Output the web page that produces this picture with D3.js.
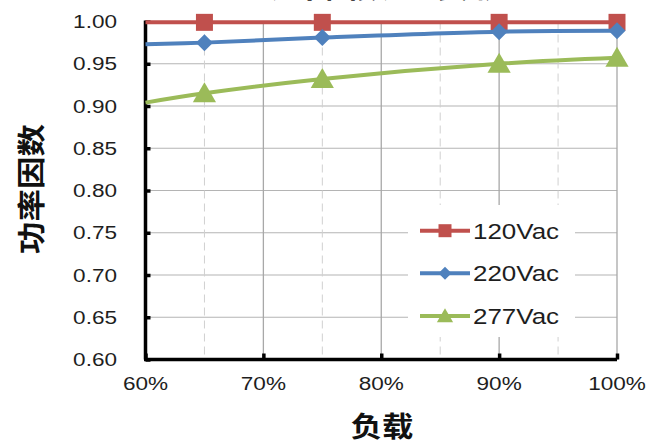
<!DOCTYPE html>
<html>
<head>
<meta charset="utf-8">
<script src="https://cdn.jsdelivr.net/npm/d3@7/dist/d3.min.js"></script>
<style>
  html, body { margin: 0; padding: 0; background: #fff; }
  svg { display: block; }
  .num { font-family: "Liberation Sans", Arial, sans-serif; fill: #1e1e1e; }
  .cjk { font-family: "Noto Sans CJK SC", sans-serif; font-weight: 700; fill: #111; }
</style>
</head>
<body>
<svg id="chart" width="650" height="443"></svg>
<script>
// Load (%) at which power factor was measured
const loads = [60, 65, 75, 90, 100];
// Power factor per input voltage
const pf120 = [0.999, 0.999, 0.999, 0.999, 0.999];
const pf220 = [0.973, 0.975, 0.981, 0.988, 0.989];
const pf277 = [0.904, 0.915, 0.932, 0.950, 0.957];
const seriesNames = ["120Vac", "220Vac", "277Vac"];
const yTicks = [0.60, 0.65, 0.70, 0.75, 0.80, 0.85, 0.90, 0.95, 1.00];
const xMajor = [60, 70, 80, 90, 100];
const xMinor = [65, 75, 85, 95];

const plot = { left: 145.5, right: 617, top: 21.5, bottom: 359.5 };
const SX = 1.22; // horizontal stretch of the label glyphs

const svg = d3.select("#chart");
const x = d3.scaleLinear().domain([60, 100]).range([plot.left, plot.right]);
const y = d3.scaleLinear().domain([0.60, 1.00]).range([plot.bottom, plot.top]);

const series = [
  { name: seriesNames[0], values: pf120, color: "#C0504D", shape: "square" },
  { name: seriesNames[1], values: pf220, color: "#4F81BD", shape: "diamond" },
  { name: seriesNames[2], values: pf277, color: "#9BBB59", shape: "triangle" }
];

// Title (sits almost entirely above the top edge)
svg.append("text").attr("class", "cjk")
  .attr("transform", `translate(${(plot.left + plot.right) / 2},-2) scale(${SX},1)`)
  .attr("text-anchor", "middle").style("font-size", "26px")
  .text("功率因数 vs 负载");

// Horizontal gridlines
svg.append("g").selectAll("line").data(yTicks.slice(1)).join("line")
  .attr("x1", plot.left).attr("x2", plot.right)
  .attr("y1", d => y(d)).attr("y2", d => y(d))
  .attr("stroke", "#b4b4b4").attr("stroke-width", 1.2);

// Vertical minor (dashed) gridlines
svg.append("g").selectAll("line").data(xMinor).join("line")
  .attr("x1", d => x(d)).attr("x2", d => x(d))
  .attr("y1", plot.top).attr("y2", plot.bottom)
  .attr("stroke", "#d0d0d0").attr("stroke-width", 1).attr("stroke-dasharray", "8,5");

// Vertical major gridlines
svg.append("g").selectAll("line").data(xMajor.slice(1)).join("line")
  .attr("x1", d => x(d)).attr("x2", d => x(d))
  .attr("y1", plot.top).attr("y2", plot.bottom)
  .attr("stroke", "#a8a8a8").attr("stroke-width", 1.3);

// Axes
const yAxis = d3.axisLeft(y).tickValues(yTicks).tickSize(-5).tickFormat("");
const gy = svg.append("g").attr("transform", `translate(${plot.left},0)`).call(yAxis);
const xAxis = d3.axisBottom(x).tickValues(xMajor).tickSize(-6).tickFormat("");
const gx = svg.append("g").attr("transform", `translate(0,${plot.bottom})`).call(xAxis);
[gy, gx].forEach(g => {
  g.select(".domain").attr("stroke", "#000").attr("stroke-width", 3.5);
  g.selectAll(".tick line").attr("stroke", "#000").attr("stroke-width", 3.5);
});
gy.select(".domain").attr("d", `M0,${plot.top - 1}V${plot.bottom}`);
gx.select(".domain").attr("d", `M${plot.left - 1.5},0H${plot.right}`);

// Tick labels
svg.append("g").selectAll("text").data(yTicks).join("text")
  .attr("class", "num").style("font-size", "18.5px")
  .attr("text-anchor", "end")
  .attr("transform", d => `translate(117,${y(d) + 6.7}) scale(${SX},1)`)
  .text(d => d.toFixed(2));
svg.append("g").selectAll("text").data(xMajor).join("text")
  .attr("class", "num").style("font-size", "18.5px")
  .attr("text-anchor", "middle")
  .attr("transform", d => `translate(${x(d)},390) scale(${SX},1)`)
  .text(d => d + "%");

// Axis titles
svg.append("text").attr("class", "cjk").style("font-size", "28px")
  .attr("text-anchor", "middle")
  .attr("transform", `translate(382,437) scale(1.12,1)`)
  .text("负载");
svg.append("text").attr("class", "cjk").style("font-size", "29px")
  .attr("text-anchor", "middle")
  .attr("transform", `translate(42,189) rotate(-90) scale(1.12,1)`)
  .text("功率因数");

// Marker symbols
function markerPath(shape, s) {
  if (shape === "square") return `M${-s / 2},${-s / 2}h${s}v${s}h${-s}Z`;
  if (shape === "diamond") return `M0,${-s / 2}L${s / 2},0L0,${s / 2}L${-s / 2},0Z`;
  return `M0,${-s * 0.55}L${s * 0.58},${s * 0.45}L${-s * 0.58},${s * 0.45}Z`;
}
const markerSize = { square: 17, diamond: 17, triangle: 20 };

const line = d3.line()
  .x((d, i) => x(loads[i]))
  .y(d => y(d))
  .curve(d3.curveCatmullRom.alpha(0.5));

const gs = svg.append("g").selectAll("g").data(series).join("g");
gs.append("path")
  .attr("d", d => line(d.values))
  .attr("fill", "none").attr("stroke", d => d.color)
  .attr("stroke-width", 4).attr("stroke-linejoin", "round");
gs.each(function (s) {
  d3.select(this).selectAll("path.mk")
    .data(s.values.map((v, i) => ({ v, load: loads[i] })).filter(p => p.load > 60))
    .join("path").attr("class", "mk")
    .attr("transform", p => `translate(${x(p.load)},${y(p.v)})`)
    .attr("d", markerPath(s.shape, markerSize[s.shape]))
    .attr("fill", s.color);
});

// Legend
const legend = svg.append("g");
legend.append("rect")
  .attr("x", 408).attr("y", 205).attr("width", 167).attr("height", 132)
  .attr("fill", "#fff");
const legendY = [230.7, 273.3, 316];
const legendMk = { square: 13, diamond: 13, triangle: 14 };
const li = legend.selectAll("g.item").data(series).join("g").attr("class", "item")
  .attr("transform", (d, i) => `translate(0,${legendY[i]})`);
li.append("line").attr("x1", 420).attr("x2", 470)
  .attr("stroke", d => d.color).attr("stroke-width", 4);
li.append("path").attr("transform", "translate(445,0)")
  .attr("d", d => markerPath(d.shape, legendMk[d.shape])).attr("fill", d => d.color);
li.append("text").attr("class", "num").style("font-size", "22px")
  .attr("transform", `translate(473,8) scale(1.18,1)`)
  .text(d => d.name);
</script>
</body>
</html>
